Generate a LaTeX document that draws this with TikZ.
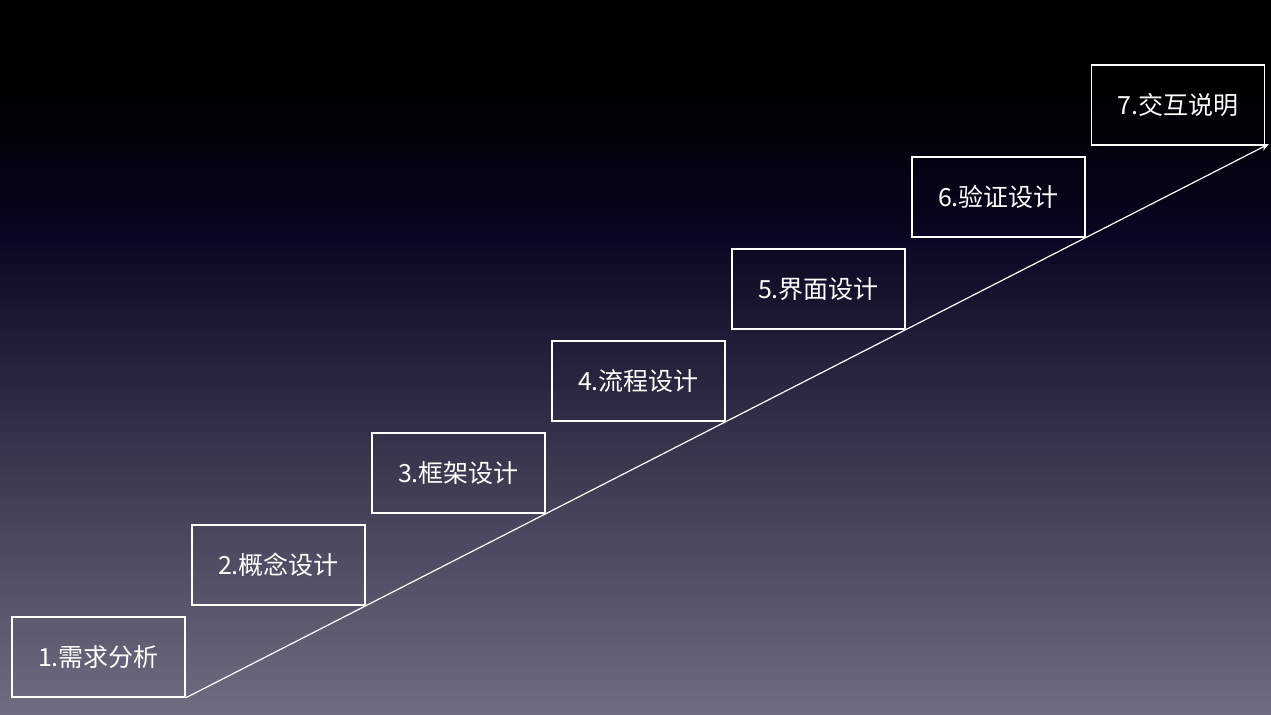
\documentclass[tikz,border=0pt]{standalone}
\usepackage{fontspec}
\newfontfamily\cjk{Noto Sans CJK SC}
\usetikzlibrary{arrows.meta}
\definecolor{bgtop}{RGB}{0,0,0}
\definecolor{bgmid}{RGB}{6,6,32}
\definecolor{bgbot}{RGB}{110,110,130}
\tikzset{
  stage/.style={draw=white, line width=0.8pt, text=white,
    minimum width=86.5pt, minimum height=40pt, inner sep=0pt,
    font=\cjk\fontsize{12.5}{14}\selectfont}
}
\begin{document}
\begin{tikzpicture}[x=0.5pt,y=-0.5pt]
\useasboundingbox (0,0) rectangle (1271,714);
% background
\fill[bgtop] (0,0) rectangle (1271,90);
\shade[top color=bgtop, bottom color=bgmid] (0,89) rectangle (1271,230);
\shade[top color=bgmid, bottom color=bgbot] (0,229) rectangle (1271,714);
% stages
\node[stage] (n1) at (98.5,657) {1.需求分析};
\node[stage] (n2) at (278.5,565) {2.概念设计};
\node[stage] (n3) at (458.5,473) {3.框架设计};
\node[stage] (n4) at (638.5,381) {4.流程设计};
\node[stage] (n5) at (818.5,289) {5.界面设计};
\node[stage] (n6) at (998.5,197) {6.验证设计};
\node[stage] (n7) at (1178,105) {7.交互说明};
\draw[white, line width=0.6pt, -{Stealth[length=4pt,width=3.5pt]}, shorten >=-2pt]
  (n1.south east) -- (n7.south east);
\end{tikzpicture}
\end{document}
